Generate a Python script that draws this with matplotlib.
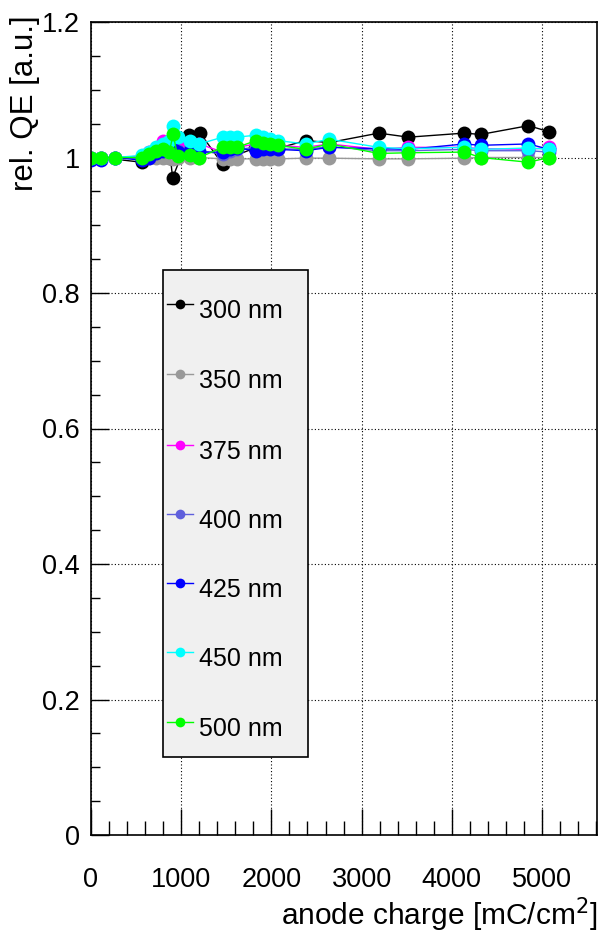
import numpy as np
import matplotlib.pyplot as plt
from matplotlib.patches import Rectangle
from matplotlib.ticker import MultipleLocator

plt.rcParams['font.family'] = ['Liberation Sans', 'DejaVu Sans']

# --- data ---
x_300 = [0, 110, 560, 880, 905, 1090, 1210, 1460, 1540, 1820, 1980, 2380, 2640,
         3190, 3520, 4140, 4320, 4850, 5080]
qe_300 = [1.0, 1.0, 0.993, 1.0, 0.97, 1.033, 1.036, 0.99, 1.0, 1.014, 1.01, 1.025,
          1.022, 1.036, 1.03, 1.036, 1.034, 1.047, 1.038]

x_common = [0, 110, 270, 560, 640, 720, 800, 870, 910, 960, 1100, 1200, 1460, 1540,
            1620, 1830, 1910, 1990, 2070, 2380, 2640, 3190, 3520, 4140, 4320, 4850, 5080]
qe_350 = [1.0, 1.0, 1.0, 1.0, 1.0, 1.0, 1.0, 0.999, 0.998, 1.0, 1.0, 1.0, 0.998, 0.998,
          0.998, 0.998, 0.998, 0.998, 0.998, 0.999, 0.999, 0.998, 0.998, 0.999, 1.0, 1.0, 1.0]
qe_375 = [1.0, 1.0, 1.0, 1.002, 1.008, 1.012, 1.025, 1.02, 1.03, 1.02, 1.022, 1.02, 1.008,
          1.012, 1.015, 1.02, 1.022, 1.02, 1.018, 1.015, 1.02, 1.012, 1.015, 1.015, 1.013,
          1.012, 1.015]
qe_400 = [0.998, 0.999, 1.0, 0.998, 1.004, 1.008, 1.012, 1.012, 1.015, 1.01, 1.012, 1.01,
          1.005, 1.01, 1.012, 1.015, 1.015, 1.014, 1.013, 1.012, 1.016, 1.01, 1.01, 1.012,
          1.01, 1.01, 1.008]
qe_425 = [0.997, 0.996, 1.0, 0.996, 1.0, 1.006, 1.01, 1.01, 1.012, 1.008, 1.01, 1.008,
          1.008, 1.012, 1.014, 1.01, 1.012, 1.013, 1.012, 1.01, 1.015, 1.013, 1.012, 1.02,
          1.018, 1.02, 1.012]
qe_450 = [1.0, 1.0, 1.0, 1.003, 1.008, 1.015, 1.02, 1.025, 1.047, 1.03, 1.025, 1.02, 1.03,
          1.03, 1.03, 1.033, 1.03, 1.028, 1.025, 1.02, 1.027, 1.015, 1.013, 1.015, 1.012,
          1.014, 1.012]
qe_500 = [1.0, 1.0, 1.0, 1.0, 1.005, 1.01, 1.012, 1.008, 1.035, 1.002, 1.003, 1.0, 1.015,
          1.015, 1.015, 1.025, 1.022, 1.02, 1.018, 1.012, 1.02, 1.006, 1.007, 1.008, 1.0,
          0.993, 1.0]

labels = ['300 nm', '350 nm', '375 nm', '400 nm', '425 nm', '450 nm', '500 nm']
colors = ['black', '#999999', '#ff00ff', '#5f5fdc', '#0000ff', '#00ffff', '#00ff00']

series = [(x_300, qe_300), (x_common, qe_350), (x_common, qe_375), (x_common, qe_400),
          (x_common, qe_425), (x_common, qe_450), (x_common, qe_500)]

fig = plt.figure(figsize=(5.99, 9.35), dpi=100)
ax = fig.add_axes([91 / 599, 1 - 835 / 935, 506 / 599, 813 / 935])

for (xs, ys), c in zip(series, colors):
    ax.plot(xs, ys, '-o', color=c, lw=1.0, ms=10, mec=c, mew=0)

ax.set_xlim(0, 5610)
ax.set_ylim(0, 1.2)
ax.xaxis.set_major_locator(MultipleLocator(1000))
ax.xaxis.set_minor_locator(MultipleLocator(200))
ax.yaxis.set_major_locator(MultipleLocator(0.2))
ax.yaxis.set_minor_locator(MultipleLocator(0.05))
ax.set_yticks([0, 0.2, 0.4, 0.6, 0.8, 1.0, 1.2])
ax.set_yticklabels(['0', '0.2', '0.4', '0.6', '0.8', '1', '1.2'])

ax.tick_params(axis='x', which='major', direction='in', length=19, width=1,
               labelsize=19.5, pad=23)
ax.tick_params(axis='x', which='minor', direction='in', length=10, width=1)
ax.tick_params(axis='y', which='major', direction='in', length=13, width=1,
               labelsize=19.5, pad=8)
ax.tick_params(axis='y', which='minor', direction='in', length=6.5, width=1)
ax.grid(True, which='major', color='black', linestyle=(0, (1, 2)), lw=0.8)
for sp in ax.spines.values():
    sp.set_linewidth(1.2)

fig.text(597 / 599, 1 - 915 / 935, 'anode charge [mC/cm$^2$]', ha='right', va='center',
         fontsize=21.5)
fig.text(25 / 599, 1 - 15 / 935, 'rel. QE [a.u.]', rotation=90, ha='center', va='top',
         fontsize=22.5)

# legend box drawn by hand to match the reference's placement
box = Rectangle((0.142, 0.096), 0.287, 0.599, transform=ax.transAxes, facecolor='#f0f0f0',
                edgecolor='black', lw=1.2, zorder=5)
ax.add_patch(box)
leg_y = [0.653, 0.567, 0.480, 0.395, 0.310, 0.225, 0.139]
for yy, lab, c in zip(leg_y, labels, colors):
    ax.plot([0.150, 0.202], [yy, yy], '-', color=c, lw=1.0, transform=ax.transAxes,
            zorder=6, clip_on=False)
    ax.plot([0.176], [yy], 'o', color=c, ms=7, mew=0, transform=ax.transAxes, zorder=7,
            clip_on=False)
    ax.text(0.213, yy - 0.009, lab, transform=ax.transAxes, ha='left', va='center',
            fontsize=18, zorder=7)

fig.savefig('out.png', dpi=100)
